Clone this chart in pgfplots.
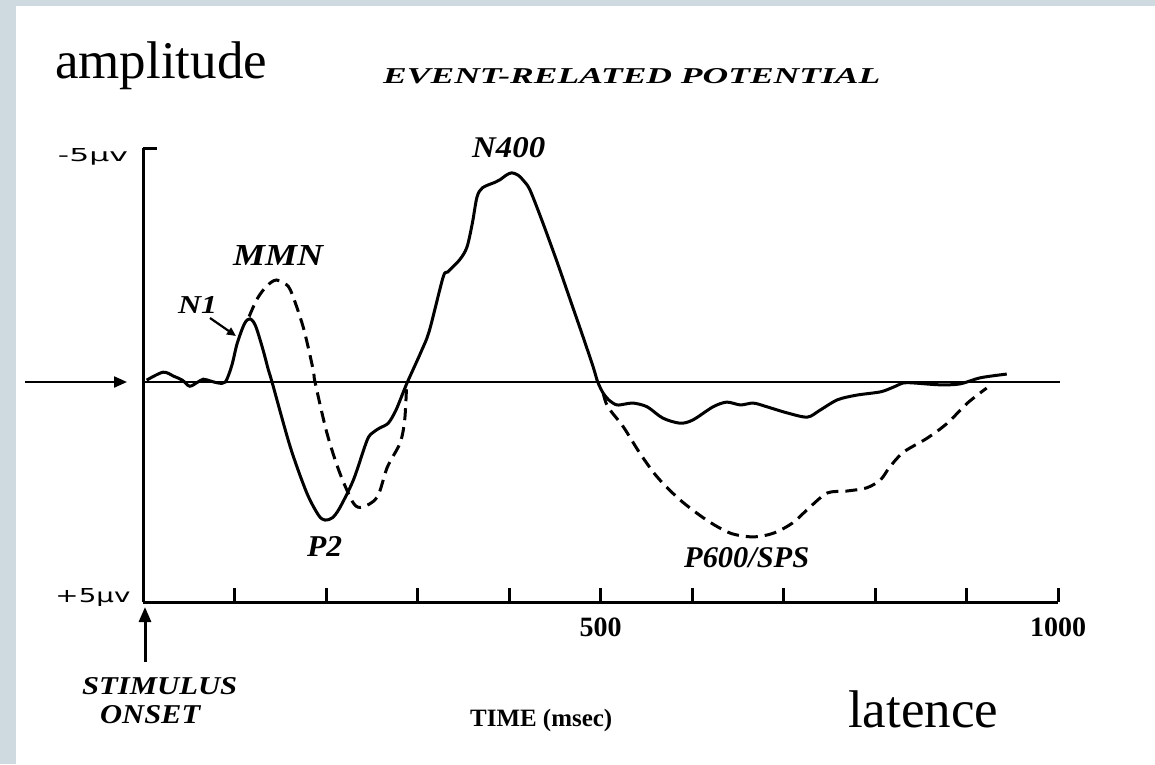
\documentclass[border=0pt]{standalone}
\usepackage{pgfplots}
\pgfplotsset{compat=1.18}
\usepackage{fontspec}
\setmainfont{Liberation Serif}
\newfontfamily\sansf{DejaVu Sans}
\usetikzlibrary{arrows.meta}
\definecolor{band}{RGB}{207,218,224}
% bold italic label squeezed to a measured width and cap height
\newcommand{\lab}[3]{\resizebox{#1pt}{#2pt}{\bfseries\itshape #3}}

\begin{document}
\begin{tikzpicture}
\begin{scope}[x=1pt,y=-1pt]
  \path[use as bounding box] (0,0) rectangle (1155,764);
  \fill[white] (0,0) rectangle (1155,764);
  \fill[band] (0,0) rectangle (16,764);
  \fill[band] (0,0) rectangle (1155,6);
\end{scope}

\begin{axis}[
  at={(143pt,-602pt)}, anchor=south west,
  width=915pt, height=454pt, scale only axis,
  xmin=0, xmax=1000, ymin=-5, ymax=4.701, y dir=reverse,
  axis x line=bottom, axis y line=left,
  axis line style={-, line width=3pt},
  xtick={100,200,...,1000}, xticklabels={,,,,500,,,,,1000},
  ytick={-5}, yticklabels={\resizebox{70pt}{13pt}{\sansf -5µv}},
  extra y ticks={4.701}, extra y tick labels={\resizebox{75pt}{14pt}{\sansf +5µv}},
  extra y tick style={yticklabel style={yshift=14pt}},
  tick align=inside, major tick length=14pt,
  tick style={black, line width=3pt},
  xticklabel style={font=\fontsize{28}{30}\selectfont\bfseries, inner sep=0pt, anchor=north, yshift=-16pt},
  yticklabel style={anchor=center, inner sep=0pt, xshift=-50pt, yshift=-9pt},
  clip=false,
]
% zero line
\addplot[black, line width=2.2pt] coordinates {(0,0) (1002,0)};

% standard condition (solid)
\addplot[black, line width=3pt, smooth] coordinates {
(4,-0.04) (22,-0.21) (34,-0.12) (43,-0.04) (51,0.09) (60,0.0) (66,-0.06) (74,-0.02)
(82,0.02) (90,0.0) (97,-0.35) (103,-0.83) (111,-1.25) (117,-1.35) (123,-1.2) (131,-0.7)
(137,-0.26) (141,0) (161,1.39) (179,2.37) (192,2.85) (199,2.95) (207,2.9) (215,2.69)
(230,2.09) (245,1.24) (252,1.07) (259,0.98) (268,0.88) (276,0.62) (284,0.24) (289,0)
(304,-0.65) (313,-1.1) (328,-2.24) (333,-2.35) (346,-2.61) (354,-2.88) (360,-3.4)
(365,-3.95) (371,-4.15) (385,-4.27) (390,-4.32) (397,-4.42) (403,-4.47) (410,-4.42)
(416,-4.3) (423,-4.10) (437,-3.40) (453,-2.54) (467,-1.75) (481,-0.96) (492,-0.32)
(497,0) (503,0.24) (510,0.4) (518,0.49) (527,0.47) (536,0.45) (551,0.53) (568,0.77)
(587,0.88) (601,0.81) (623,0.53) (638,0.43) (653,0.49) (667,0.45) (682,0.53) (704,0.66)
(726,0.75) (740,0.60) (759,0.38) (780,0.28) (806,0.21) (820,0.11) (831,0.02) (842,0.02)
(871,0.06) (893,0.04) (915,-0.09) (944,-0.17)
};

% deviant condition (dashed): MMN part
\addplot[black, line width=3pt, smooth, dash pattern=on 12pt off 7pt] coordinates {
(116,-1.40) (124,-1.75) (132,-1.98) (140,-2.13) (146,-2.18) (153,-2.12) (161,-1.97)
(175,-1.18) (186,-0.26) (188,0) (201,1.09) (215,1.94) (230,2.59) (240,2.67) (256,2.46)
(267,1.82) (281,1.30) (286,0.81) (288,0.11)
};
% deviant condition (dashed): P600 part
\addplot[black, line width=3pt, smooth, dash pattern=on 12pt off 7pt] coordinates {
(503,0.24) (508,0.53) (525,0.96) (543,1.52) (562,2.03) (587,2.52) (616,2.95) (642,3.23)
(667,3.31) (689,3.23) (710,3.01) (729,2.67) (748,2.37) (769,2.33) (791,2.26) (806,2.09)
(816,1.82) (831,1.50) (857,1.20) (879,0.88) (901,0.45) (922,0.13)
};
\end{axis}

\begin{scope}[x=1pt,y=-1pt]
  \node[anchor=base west, inner sep=0pt, font=\fontsize{53}{60}\selectfont] at (55,78) {amplitude};
  \node[anchor=base west, inner sep=0pt, font=\fontsize{53}{60}\selectfont] at (848,727) {latence};
  \node[anchor=base west, inner sep=0pt] at (383,83) {\lab{497}{15}{EVENT-RELATED POTENTIAL}};
  \node[anchor=base west, inner sep=0pt] at (472,157) {\lab{73}{20}{N400}};
  \node[anchor=base west, inner sep=0pt] at (233,265) {\lab{90}{20}{MMN}};
  \node[anchor=base west, inner sep=0pt] at (178,313) {\lab{39}{17}{N1}};
  \node[anchor=base west, inner sep=0pt] at (307,556) {\lab{35}{20}{P2}};
  \node[anchor=base west, inner sep=0pt] at (684,567) {\lab{125}{20}{P600/SPS}};
  \node[anchor=base west, inner sep=0pt] at (82,694) {\lab{155}{17}{STIMULUS}};
  \node[anchor=base west, inner sep=0pt] at (100,723) {\lab{100}{18}{ONSET}};
  \node[anchor=base west, inner sep=0pt] at (470,726) {\resizebox{142pt}{!}{\bfseries TIME (msec)}};
  % arrows
  \draw[line width=2.2pt, -{Triangle[length=13pt,width=11pt]}] (25,382) -- (127,382);
  \draw[line width=3pt, -{Triangle[length=15pt,width=12pt]}] (145,662) -- (145,607);
  \draw[line width=2.2pt, -{Triangle[length=9pt,width=8pt]}] (210,318) -- (236,336);
\end{scope}
\end{tikzpicture}
\end{document}
